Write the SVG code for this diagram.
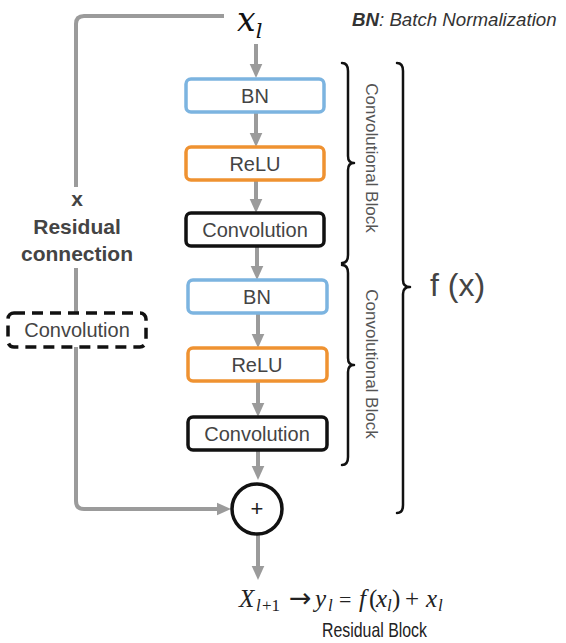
<svg xmlns="http://www.w3.org/2000/svg" width="566" height="643" viewBox="0 0 566 643">
<defs>
<marker id="ah" viewBox="0 0 10 10" refX="0" refY="5" markerUnits="userSpaceOnUse" markerWidth="14" markerHeight="14" orient="auto">
<path d="M0,0.5 L10,5 L0,9.5 z" fill="#9b9b9b"/>
</marker>
<style>
.conn{fill:none;stroke:#9b9b9b;stroke-width:4}
.arr{fill:none;stroke:#9b9b9b;stroke-width:4;marker-end:url(#ah)}
.box{fill:#fff;stroke-width:3.5}
.bn{stroke:#7cb4e0}
.relu{stroke:#ef9231}
.conv{stroke:#111}
.lbl{font-family:"Liberation Sans",Arial,sans-serif;font-size:20px;fill:#444;text-anchor:middle}
.brace{fill:none;stroke:#111;stroke-width:2.5;stroke-linejoin:round;stroke-linecap:round}
.side{font-family:"Liberation Sans",Arial,sans-serif;font-size:17px;fill:#555;text-anchor:middle}
.res{font-family:"Liberation Sans",Arial,sans-serif;font-size:21px;font-weight:bold;fill:#444;text-anchor:middle}
.math{font-family:"Liberation Serif","Times New Roman",serif;font-style:italic;font-size:25px;fill:#222}
.up{font-style:normal}
.sub{font-size:17px}
</style>
</defs>
<rect width="566" height="643" fill="#fff"/>
<g id="connectors">
<path class="conn" d="M224,16 H84 Q76,16 76,24 V187"/>
<path class="conn" d="M76,268 V312"/>
<path class="arr" d="M76,347 V501 Q76,509 84,509 H217"/>
<path class="arr" d="M256,44 V64"/>
<path class="arr" d="M256,112 V133"/>
<path class="arr" d="M256,180 V199"/>
<path class="arr" d="M257,246 V266"/>
<path class="arr" d="M258,313 V334"/>
<path class="arr" d="M258,381 V403"/>
<path class="arr" d="M258,450 V466"/>
<path class="arr" d="M258,534 V566"/>
</g>
<g id="input"><text x="237" y="31" font-family="DejaVu Serif,Liberation Serif,serif" font-style="italic" font-size="33" fill="#111">x<tspan font-size="21" dy="7">l</tspan></text></g>
<g id="legend"><text x="352" y="26" font-family="Liberation Sans,Arial,sans-serif" font-size="18.7" font-style="italic" fill="#333"><tspan font-weight="bold">BN</tspan>: Batch Normalization</text></g>
<g id="bn1"><rect class="box bn" x="186" y="79" width="138" height="33" rx="5"/><text class="lbl" x="255" y="103">BN</text></g>
<g id="relu1"><rect class="box relu" x="186" y="147" width="138" height="33" rx="5"/><text class="lbl" x="255" y="171">ReLU</text></g>
<g id="conv1"><rect class="box conv" x="186" y="213" width="138" height="33" rx="5"/><text class="lbl" x="255" y="237">Convolution</text></g>
<g id="bn2"><rect class="box bn" x="188" y="280" width="139" height="33" rx="5"/><text class="lbl" x="257" y="304">BN</text></g>
<g id="relu2"><rect class="box relu" x="188" y="348" width="139" height="33" rx="5"/><text class="lbl" x="257" y="372">ReLU</text></g>
<g id="conv2"><rect class="box conv" x="188" y="417" width="139" height="33" rx="5"/><text class="lbl" x="257" y="441">Convolution</text></g>
<g id="sum"><circle cx="257" cy="509" r="25" fill="#fff" stroke="#111" stroke-width="3.5"/><text x="257" y="516" font-family="Liberation Sans,Arial,sans-serif" font-size="22" fill="#222" text-anchor="middle">+</text></g>
<g id="residual-label"><text class="res" x="77" y="206">x</text><text class="res" x="77" y="234">Residual</text><text class="res" x="77" y="261">connection</text></g>
<g id="shortcut-conv"><rect x="8" y="313" width="138" height="34" rx="6" fill="#fff" stroke="#111" stroke-width="3.5" stroke-dasharray="11,7"/><text class="lbl" x="77" y="337">Convolution</text></g>
<g id="brace1"><path class="brace" d="M342,63 Q348,63 348,71 V156 Q348,163 354,163 Q348,163 348,170 V255 Q348,263 342,263"/><text class="side" transform="translate(366,158) rotate(90)">Convolutional Block</text></g>
<g id="brace2"><path class="brace" d="M342,265 Q348,265 348,273 V358 Q348,365 354,365 Q348,365 348,372 V457 Q348,465 342,465"/><text class="side" transform="translate(366,364) rotate(90)">Convolutional Block</text></g>
<g id="brace-fx"><path class="brace" d="M397,63 Q403,63 403,71 V280 Q403,287 410,287 Q403,287 403,294 V505 Q403,513 397,513"/><text x="430" y="296" font-family="Liberation Sans,Arial,sans-serif" font-size="32" fill="#444">f (x)</text></g>
<g id="formula"><text class="math" y="607"><tspan x="239">X</tspan><tspan class="sub" x="256" y="611">l</tspan><tspan class="sub up" x="262">+1</tspan><tspan class="up" x="289" y="607" font-family="DejaVu Sans,sans-serif" font-size="27">→</tspan><tspan x="315">y</tspan><tspan class="sub" x="328" y="611">l</tspan><tspan class="up" x="339" y="607" font-size="22">=</tspan><tspan x="359">f</tspan><tspan class="up" x="369">(</tspan><tspan x="376">x</tspan><tspan class="sub" x="387" y="611">l</tspan><tspan class="up" x="392" y="607">)</tspan><tspan class="up" x="405">+</tspan><tspan x="426">x</tspan><tspan class="sub" x="438" y="611">l</tspan></text>
<text x="374.5" y="637" font-family="Liberation Sans,Arial,sans-serif" font-size="21" fill="#222" text-anchor="middle" textLength="105" lengthAdjust="spacingAndGlyphs">Residual Block</text></g>
</svg>
